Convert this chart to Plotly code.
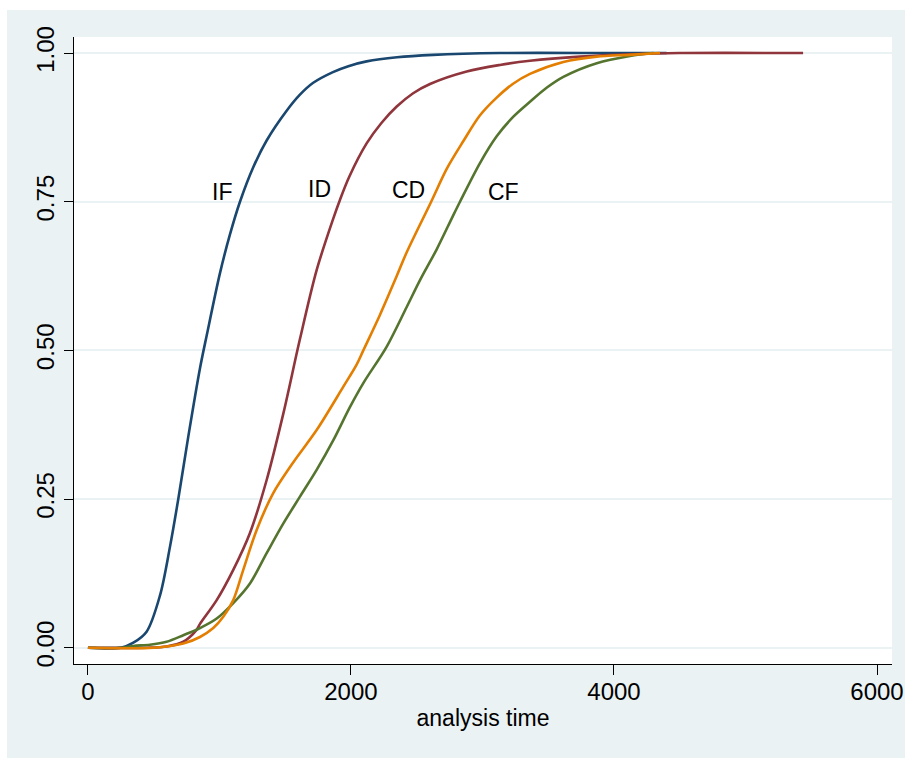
import plotly.graph_objects as go

# ---- data ----
if_x = [0, 250, 342, 446, 548, 624, 687, 763, 852, 903, 1004, 1080, 1156, 1257, 1359, 1511, 1612, 1713, 1863, 1980, 2119, 2350, 2624, 3133, 4000, 4400]
if_y = [0, 0, 0.008, 0.027, 0.088, 0.17, 0.25, 0.355, 0.47, 0.525, 0.63, 0.695, 0.75, 0.808, 0.853, 0.903, 0.93, 0.95, 0.968, 0.978, 0.986, 0.993, 0.997, 1.0, 1.0, 1.0]

id_x = [0, 450, 598, 725, 826, 852, 979, 1105, 1232, 1359, 1486, 1612, 1739, 1866, 1916, 1987, 2119, 2230, 2348, 2470, 2601, 2880, 3133, 3361, 3742, 4122, 4500, 5438]
id_y = [0, 0, 0.002, 0.01, 0.03, 0.04, 0.08, 0.131, 0.193, 0.282, 0.394, 0.519, 0.635, 0.722, 0.753, 0.792, 0.848, 0.882, 0.91, 0.932, 0.948, 0.969, 0.980, 0.987, 0.994, 0.998, 1.0, 1.0]

cd_x = [0, 500, 725, 852, 953, 1029, 1105, 1181, 1283, 1409, 1562, 1739, 1942, 2043, 2094, 2221, 2348, 2424, 2610, 2730, 2855, 2980, 3108, 3230, 3361, 3615, 3869, 4122, 4350]
cd_y = [0, 0, 0.007, 0.018, 0.033, 0.052, 0.08, 0.131, 0.198, 0.26, 0.312, 0.366, 0.439, 0.476, 0.5, 0.56, 0.625, 0.665, 0.75, 0.806, 0.852, 0.895, 0.925, 0.948, 0.965, 0.985, 0.994, 0.997, 1.0]

cf_x = [0, 250, 345, 471, 598, 725, 852, 979, 1105, 1232, 1359, 1486, 1612, 1739, 1866, 1993, 2094, 2271, 2424, 2525, 2652, 2773, 2829, 2981, 3108, 3235, 3361, 3490, 3615, 3869, 4122, 4300]
cf_y = [0, 0, 0.003, 0.005, 0.01, 0.021, 0.033, 0.049, 0.075, 0.108, 0.159, 0.209, 0.254, 0.299, 0.349, 0.405, 0.445, 0.506, 0.573, 0.618, 0.67, 0.725, 0.75, 0.815, 0.86, 0.893, 0.918, 0.942, 0.96, 0.983, 0.995, 1.0]

series_names = ["IF", "ID", "CD", "CF"]
series_colors = ["#1A476F", "#90353B", "#E37E00", "#55752F"]

label_x = [1023, 1764, 2434, 3160]
label_y = [0.767, 0.771, 0.769, 0.766]

y_ticks = [0, 0.25, 0.5, 0.75, 1.0]
y_ticklabels = ["0.00", "0.25", "0.50", "0.75", "1.00"]
x_ticks = [0, 2000, 4000, 6000]
x_title = "analysis time"

BG = "#EAF2F3"
FONT = "Liberation Sans, Arial, Helvetica, sans-serif"

fig = go.Figure()
series = {"IF": (if_x, if_y), "ID": (id_x, id_y), "CD": (cd_x, cd_y), "CF": (cf_x, cf_y)}
for name in ["IF", "ID", "CF", "CD"]:
    i = series_names.index(name)
    x, y = series[name]
    fig.add_trace(go.Scatter(
        x=x, y=y, mode="lines", name=name,
        line=dict(color=series_colors[i], width=2.6, shape="spline", smoothing=0.9),
        showlegend=False, hoverinfo="skip"))

for name, lx, ly in zip(series_names, label_x, label_y):
    fig.add_annotation(x=lx, y=ly, text=name, showarrow=False,
                       font=dict(size=23, color="#000000", family=FONT),
                       xanchor="center", yanchor="middle")

fig.update_layout(
    width=898, height=748, autosize=False,
    paper_bgcolor=BG, plot_bgcolor="#FFFFFF",
    margin=dict(l=67, r=13, t=27, b=94, autoexpand=False),
    font=dict(family=FONT, size=23, color="#000000"),
    showlegend=False,
)
fig.update_xaxes(
    range=[-106, 6114], tickvals=x_ticks, ticktext=[str(v) for v in x_ticks],
    showgrid=False, zeroline=False, automargin=False,
    showline=True, linecolor="#000000", linewidth=1.3,
    ticks="outside", ticklen=10, tickwidth=1.3, tickcolor="#000000",
    tickfont=dict(size=24, family=FONT),
    ticklabelstandoff=-4,
    title=dict(text=x_title, font=dict(size=23, family=FONT), standoff=5),
)
fig.update_yaxes(
    range=[-0.0274, 1.027], tickvals=y_ticks, ticktext=y_ticklabels,
    tickangle=-90, automargin=False,
    showgrid=True, gridcolor=BG, gridwidth=2, zeroline=False,
    showline=True, linecolor="#000000", linewidth=1.3,
    ticks="outside", ticklen=9, tickwidth=1.3, tickcolor="#000000",
    tickfont=dict(size=24, family=FONT),
)

fig.write_html(
    "out.html",
    post_script="document.body.style.margin='10px 0 0 7px';document.body.style.overflow='hidden';",
)
